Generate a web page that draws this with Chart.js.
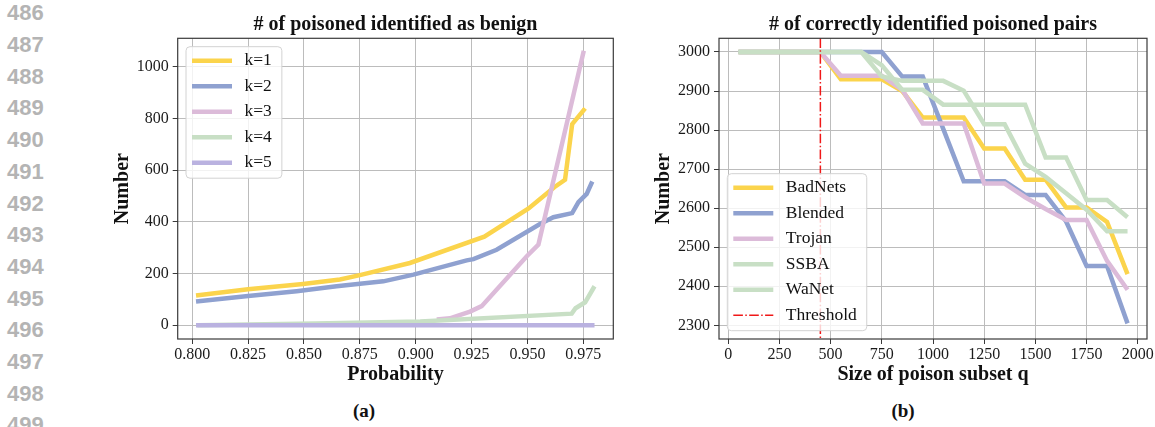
<!DOCTYPE html>
<html>
<head>
<meta charset="utf-8">
<script src="https://cdn.jsdelivr.net/npm/chart.js@4.4.0/dist/chart.umd.min.js"></script>
<style>
  body { margin:0; background:#fff; width:1155px; height:427px; overflow:hidden; position:relative; }
  .ln { position:absolute; left:7px; font:bold 22px/22px "Liberation Sans", Arial, sans-serif; color:#b4b4b4; }
  .cap { position:absolute; width:60px; text-align:center; font:bold 19px/19px "Liberation Serif", serif; color:#111; }
  #wa { position:absolute; left:90px; top:0; }
  #wb { position:absolute; left:640px; top:0; }
</style>
</head>
<body>
<div id="lines"></div>
<div id="wa"><canvas id="ca" width="545" height="395"></canvas></div>
<div id="wb"><canvas id="cb" width="515" height="395"></canvas></div>
<div class="cap" style="left:334px;top:401px">(a)</div>
<div class="cap" style="left:873px;top:401px">(b)</div>
<script>
// page line numbers down the left margin
const lineNumbers = ['486','487','488','489','490','491','492','493','494','495','496','497','498','499'];

// (a) # of poisoned identified as benign
const k1Prob  = [0.8017, 0.825, 0.8496, 0.8661, 0.875, 0.8974, 0.9307, 0.9505, 0.9620, 0.9668, 0.9700, 0.9758];
const k1Count = [115, 139, 160, 177, 194, 241, 343, 452, 534, 563, 778, 839];
const k2Prob  = [0.8017, 0.825, 0.8467, 0.8646, 0.8855, 0.899, 0.9228, 0.9258, 0.9362, 0.9556, 0.9616, 0.9700, 0.9728, 0.9765, 0.9790];
const k2Count = [92, 113, 132, 151, 170, 196, 251, 256, 292, 392, 418, 434, 476, 508, 556];
const k3Prob  = [0.9094, 0.9153, 0.9243, 0.9295, 0.9497, 0.9549, 0.9752];
const k3Count = [22, 27, 53, 74, 267, 312, 1062];
const k4Prob  = [0.8023, 0.855, 0.902, 0.9698, 0.9715, 0.9758, 0.9800];
const k4Count = [0, 7, 15, 45, 66, 89, 151];
const k5Prob  = [0.8017, 0.9800];
const k5Count = [0, 0];
const probTicks  = [0.800, 0.825, 0.850, 0.875, 0.900, 0.925, 0.950, 0.975];
const countTicks = [0, 200, 400, 600, 800, 1000];

// (b) # of correctly identified poisoned pairs
const qSizes  = [50, 150, 250, 350, 450, 550, 650, 750, 850, 950, 1050, 1150, 1250, 1350, 1450, 1550, 1650, 1750, 1850, 1950];
const badNets = [3000, 3000, 3000, 3000, 3000, 2930, 2930, 2930, 2900, 2832, 2832, 2832, 2753, 2753, 2673, 2673, 2602, 2602, 2565, 2431];
const blended = [3000, 3000, 3000, 3000, 3000, 3000, 3000, 3000, 2937, 2937, 2803, 2669, 2669, 2669, 2634, 2634, 2566, 2452, 2452, 2305];
const trojan  = [3000, 3000, 3000, 3000, 3000, 2939, 2939, 2939, 2903, 2817, 2817, 2817, 2663, 2663, 2628, 2598, 2570, 2570, 2465, 2391];
const ssba    = [3000, 3000, 3000, 3000, 3000, 3000, 3000, 2937, 2926, 2926, 2926, 2901, 2815, 2815, 2714, 2680, 2638, 2596, 2541, 2541];
const waNet   = [3000, 3000, 3000, 3000, 3000, 3000, 3000, 2966, 2903, 2903, 2865, 2865, 2865, 2865, 2865, 2730, 2730, 2621, 2621, 2577];
const threshold  = 450;
const qTicks     = [0, 250, 500, 750, 1000, 1250, 1500, 1750, 2000];
const pairTicks  = [2300, 2400, 2500, 2600, 2700, 2800, 2900, 3000];

const YELLOW = '#fbd44c', BLUE = '#8fa1d0', PINK = '#dcbbd9', GREEN = '#c8dfc5', PURPLE = '#bab2e0', RED = '#f01818';
const SERIF = '"Liberation Serif", "Times New Roman", serif';
const DASHDOT = [9.6, 2.4, 1.5, 2.4];

const lnBox = document.getElementById('lines');
lineNumbers.forEach((t, i) => {
  const d = document.createElement('div');
  d.className = 'ln';
  d.style.top = (2.3 + i * 31.7) + 'px';
  d.textContent = t;
  lnBox.appendChild(d);
});

function pts(xs, ys) { return xs.map((x, i) => ({ x: x, y: ys[i] })); }

function series(label, xs, ys, color, i) {
  return { label, data: pts(xs, ys), borderColor: color, backgroundColor: color,
           borderWidth: 4.5, pointRadius: 0, tension: 0, order: -i,
           borderCapStyle: 'butt', borderJoinStyle: 'miter' };
}

function axis(min, max, ticks, fmt, title, titlePad, size, isX) {
  return {
    type: 'linear', min, max,
    afterBuildTicks: s => { s.ticks = ticks.map(v => ({ value: v })); },
    afterFit: s => { if (isX) s.height = size; else s.width = size; },
    ticks: { font: { family: SERIF, size: 16 }, color: '#1a1a1a', padding: isX ? 1 : 4,
             maxRotation: 0, autoSkip: false, callback: fmt },
    grid: { color: '#bcbcbc', lineWidth: 1, tickColor: '#3a3a3a', tickLength: 5 },
    border: { display: false },
    title: { display: true, text: title, color: '#111', padding: titlePad,
             font: { family: SERIF, size: 20, weight: 'bold' } }
  };
}

// spines, threshold line and the legend inside the plot
const framePlugin = {
  id: 'frame',
  afterDatasetsDraw(chart, args, opts) {
    const { ctx, chartArea: a } = chart;
    ctx.save();
    if (opts.threshold != null) {
      const x = chart.scales.x.getPixelForValue(opts.threshold);
      ctx.strokeStyle = RED; ctx.lineWidth = 1.5; ctx.setLineDash(DASHDOT);
      ctx.beginPath(); ctx.moveTo(x, a.top); ctx.lineTo(x, a.bottom); ctx.stroke();
      ctx.setLineDash([]);
    }
    ctx.strokeStyle = '#3a3a3a'; ctx.lineWidth = 1.2;
    ctx.strokeRect(a.left, a.top, a.right - a.left, a.bottom - a.top);

    const items = chart.data.datasets.map(d => ({ label: d.label, color: d.borderColor }));
    if (opts.threshold != null) items.push({ label: 'Threshold', color: RED, dash: DASHDOT });
    ctx.font = '17.5px ' + SERIF;
    const w = 58.5 + Math.max(...items.map(it => ctx.measureText(it.label).width)) + 10;
    const h = items.length * 25.5 + 4;
    const bx = a.left + 8.3;
    const by = opts.corner === 'top' ? a.top + 8.4 : a.bottom - 8.3 - h;
    ctx.fillStyle = 'rgba(255,255,255,0.8)'; ctx.strokeStyle = '#d2d2d2'; ctx.lineWidth = 1;
    ctx.beginPath(); ctx.roundRect(bx, by, w, h, 4); ctx.fill(); ctx.stroke();
    items.forEach((it, i) => {
      const y = by + 14 + i * 25.5;
      ctx.strokeStyle = it.color; ctx.lineWidth = it.dash ? 1.5 : 4.5;
      ctx.setLineDash(it.dash || []);
      ctx.beginPath(); ctx.moveTo(bx + 6, y); ctx.lineTo(bx + 46, y); ctx.stroke();
      ctx.setLineDash([]);
      ctx.fillStyle = '#111'; ctx.textBaseline = 'middle'; ctx.textAlign = 'left';
      ctx.fillText(it.label, bx + 58.5, y);
    });
    ctx.restore();
  }
};

function titleOpt(text) {
  return { display: true, text, color: '#111', fullSize: false,
           font: { family: SERIF, size: 20, weight: 'bold' }, padding: { top: 13, bottom: 1.3 } };
}

new Chart(document.getElementById('ca'), {
  type: 'line',
  data: { datasets: [
    series('k=1', k1Prob, k1Count, YELLOW, 0),
    series('k=2', k2Prob, k2Count, BLUE, 1),
    series('k=3', k3Prob, k3Count, PINK, 2),
    series('k=4', k4Prob, k4Count, GREEN, 3),
    series('k=5', k5Prob, k5Count, PURPLE, 4)
  ] },
  options: {
    responsive: false, animation: false,
    layout: { padding: { left: 0, right: 21.7, top: 0, bottom: 0 } },
    scales: {
      x: axis(0.7935, 0.9884, probTicks, v => v.toFixed(3), 'Probability', { top: 4, bottom: 8.2 }, 56, true),
      y: axis(-53, 1110, countTicks, v => String(v), 'Number', { top: 20.5, bottom: 4 }, 87.7, false)
    },
    plugins: { legend: { display: false }, tooltip: { enabled: false },
               title: titleOpt('# of poisoned identified as benign'),
               frame: { corner: 'top' } }
  },
  plugins: [framePlugin]
});

new Chart(document.getElementById('cb'), {
  type: 'line',
  data: { datasets: [
    series('BadNets', qSizes, badNets, YELLOW, 0),
    series('Blended', qSizes, blended, BLUE, 1),
    series('Trojan', qSizes, trojan, PINK, 2),
    series('SSBA', qSizes, ssba, GREEN, 3),
    series('WaNet', qSizes, waNet, GREEN, 4)
  ] },
  options: {
    responsive: false, animation: false,
    layout: { padding: { left: 0, right: 8, top: 0, bottom: 0 } },
    scales: {
      x: axis(-45, 2045, qTicks, v => String(v), 'Size of poison subset q', { top: 4, bottom: 8.2 }, 56, true),
      y: axis(2265, 3035, pairTicks, v => String(v), 'Number', { top: 12, bottom: 4 }, 79, false)
    },
    plugins: { legend: { display: false }, tooltip: { enabled: false },
               title: titleOpt('# of correctly identified poisoned pairs'),
               frame: { corner: 'bottom', threshold: threshold } }
  },
  plugins: [framePlugin]
});
</script>
</body>
</html>
